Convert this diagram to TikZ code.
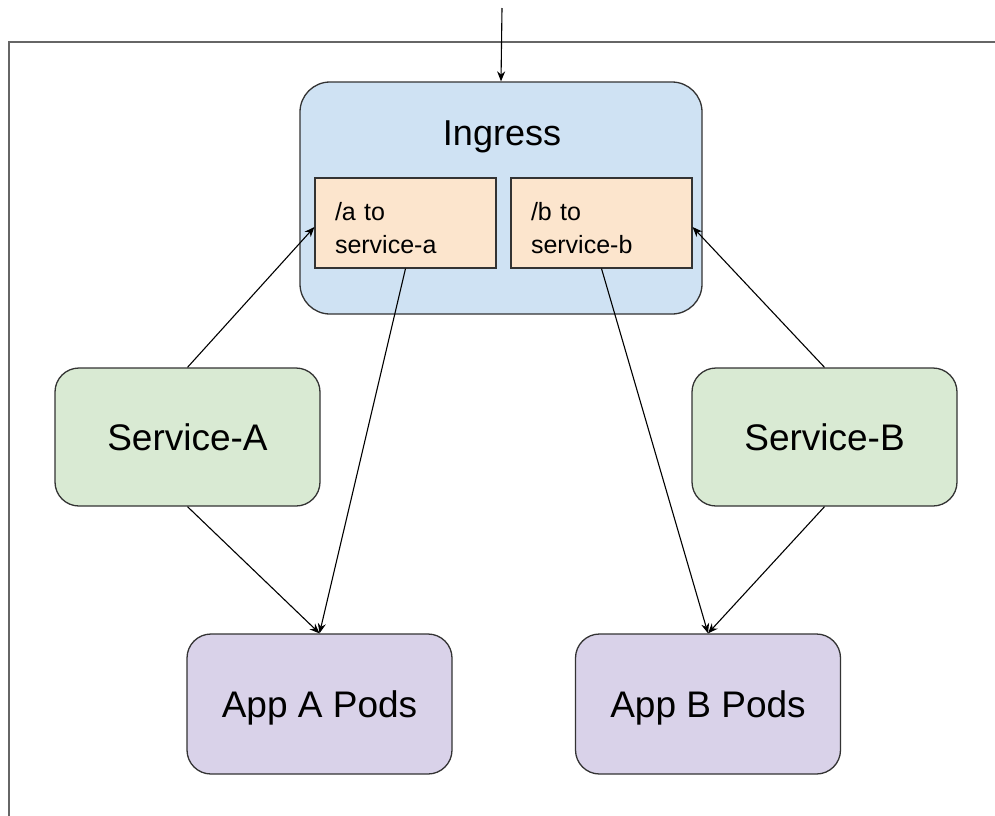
\documentclass[tikz,border=0pt]{standalone}
\usepackage{fontspec}
\setmainfont{Liberation Sans}
\usetikzlibrary{arrows.meta,calc}
\definecolor{ingblue}{HTML}{CFE2F3}
\definecolor{rulepeach}{HTML}{FCE5CD}
\definecolor{svcgreen}{HTML}{D9EAD3}
\definecolor{podpurple}{HTML}{D9D2E9}
\definecolor{edge}{HTML}{333333}
\definecolor{framegray}{HTML}{666666}
\tikzset{
  box/.style={draw=edge, line width=1.3pt, inner sep=0pt, text height=27pt, text depth=0pt,
    font=\fontsize{37}{44}\selectfont},
  ingressbox/.style={box, fill=ingblue, rounded corners=30pt, minimum width=402pt, minimum height=232pt},
  rulebox/.style={draw=edge, line width=1.2pt, fill=rulepeach, inner sep=0pt,
    minimum width=181pt, minimum height=90pt},
  ruletext/.style={inner sep=0pt, text width=141pt, align=left,
    font=\fontsize{25}{33}\selectfont},
  svcbox/.style={box, fill=svcgreen, rounded corners=24pt, minimum width=265pt, minimum height=138pt},
  podbox/.style={box, fill=podpurple, rounded corners=24pt, minimum width=265pt, minimum height=140pt},
  link/.style={draw=black, line width=1.1pt, -{Stealth[length=10pt,width=8pt]}},
  frame/.style={draw=framegray, line width=2pt},
}
\begin{document}
\begin{tikzpicture}[x=1pt, y=-1pt]
  \useasboundingbox (0,0) rectangle (995,815);

  % open outer boundary
  \coordinate (fbl) at (9,816);
  \coordinate (ftl) at (9,42);
  \coordinate (ftr) at (996,42);
  \draw[frame] (fbl) -- (ftl) -- (ftr);

  % ingress with its two routing rules
  \node[ingressbox] (ing) at (501,198) {};
  \node[font=\fontsize{36}{42}\selectfont] (ingt) at (502,137) {Ingress};
  \node[rulebox] (ra) at (405.5,223) {};
  \node[rulebox] (rb) at (601.5,223) {};
  \node[ruletext] (rat) at ($(ra.center)+(0,5)$) {/a to\\service-a};
  \node[ruletext] (rbt) at ($(rb.center)+(0,5)$) {/b to\\service-b};

  % services
  \node[svcbox] (sa) at (187.5,437) {Service-A};
  \node[svcbox] (sb) at (824.5,437) {Service-B};

  % pods
  \node[podbox] (pa) at (319.5,704) {App A Pods};
  \node[podbox] (pb) at (708,704) {App B Pods};

  % incoming traffic
  \coordinate (entry) at (502,8);
  \draw[link] (entry) -- (ing.north);

  % connectors
  \draw[link] (sa.north) -- ($(ra.west)+(0,4)$);
  \draw[link] (ra.south) -- (pa.north);
  \draw[link] (sa.south) -- (pa.north);
  \draw[link] (sb.north) -- ($(rb.east)+(0,4)$);
  \draw[link] (rb.south) -- (pb.north);
  \draw[link] (sb.south) -- (pb.north);
\end{tikzpicture}
\end{document}
